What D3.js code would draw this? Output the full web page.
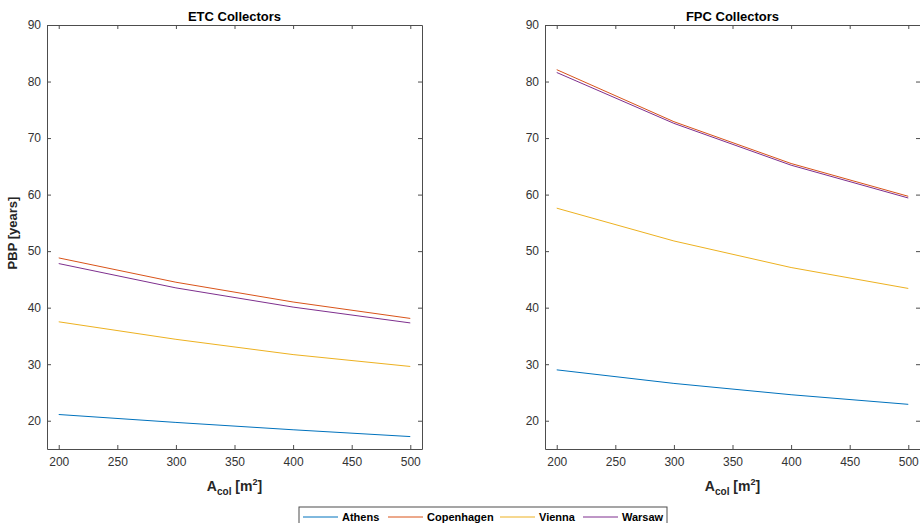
<!DOCTYPE html>
<html>
<head>
<meta charset="utf-8">
<script src="https://cdn.jsdelivr.net/npm/d3@7"></script>
<style>
  body { margin: 0; background: #fff; }
  svg { font-family: "Liberation Sans", Arial, sans-serif; }
  .tick text { fill: #333; font-size: 12px; font-family: "Liberation Sans", Arial, sans-serif; }
</style>
</head>
<body>
<script>
// collector area [m2]
const areas = [200, 300, 400, 500];
const cities = ['Athens', 'Copenhagen', 'Vienna', 'Warsaw'];
const colors = ['#0072BD', '#D95319', '#EDB120', '#7E2F8E'];
const xTicks = [200, 250, 300, 350, 400, 450, 500];
const yTicks = [20, 30, 40, 50, 60, 70, 80, 90];

// PBP [years], ETC collectors
const etcAthens = [21.1, 19.7, 18.4, 17.2];
const etcCopenhagen = [48.8, 44.5, 41.0, 38.1];
const etcVienna = [37.5, 34.4, 31.7, 29.6];
const etcWarsaw = [47.8, 43.5, 40.1, 37.3];

// PBP [years], FPC collectors
const fpcAthens = [29.0, 26.6, 24.6, 22.9];
const fpcCopenhagen = [82.1, 72.9, 65.5, 59.7];
const fpcVienna = [57.6, 51.8, 47.1, 43.4];
const fpcWarsaw = [81.6, 72.6, 65.2, 59.4];

const panels = [
  { title: 'ETC Collectors', left: 47, series: [etcAthens, etcCopenhagen, etcVienna, etcWarsaw], ylabel: true },
  { title: 'FPC Collectors', left: 545, series: [fpcAthens, fpcCopenhagen, fpcVienna, fpcWarsaw], ylabel: false },
];

const W = 920, H = 523;
const marginTop = 25, plotH = 424, plotW = 375;

const svg = d3.select('body').append('svg')
  .attr('width', W)
  .attr('height', H);

panels.forEach(p => {
  const x = d3.scaleLinear().domain([190, 510]).range([0, plotW]);
  const y = d3.scaleLinear().domain([15, 90]).range([plotH, 0]);

  const g = svg.append('g').attr('transform', `translate(${p.left},${marginTop})`);

  // lines first, axes on top
  const line = d3.line().x((d, i) => x(areas[i])).y(d => y(d));
  p.series.forEach((s, i) => {
    g.append('path')
      .datum(s)
      .attr('fill', 'none')
      .attr('stroke', colors[i])
      .attr('stroke-width', 1)
      .attr('d', line);
  });

  const axisColor = '#4d4d4d';
  const styleAxis = sel => {
    sel.select('.domain').attr('stroke', axisColor);
    sel.selectAll('.tick line').attr('stroke', axisColor);
  };

  g.append('g')
    .attr('transform', `translate(0,${plotH})`)
    .call(d3.axisBottom(x).tickValues(xTicks).tickSizeInner(-4).tickSizeOuter(0).tickPadding(8))
    .call(styleAxis);
  g.append('g')
    .call(d3.axisTop(x).tickValues(xTicks).tickSizeInner(-4).tickSizeOuter(0).tickFormat(''))
    .call(styleAxis);
  g.append('g')
    .call(d3.axisLeft(y).tickValues(yTicks).tickSizeInner(-4).tickSizeOuter(0).tickPadding(6))
    .call(styleAxis);
  g.append('g')
    .attr('transform', `translate(${plotW},0)`)
    .call(d3.axisRight(y).tickValues(yTicks).tickSizeInner(-4).tickSizeOuter(0).tickFormat(''))
    .call(styleAxis);

  g.append('text')
    .attr('x', plotW / 2)
    .attr('y', -4)
    .attr('text-anchor', 'middle')
    .attr('font-weight', 'bold')
    .attr('font-size', 13)
    .attr('fill', '#000')
    .text(p.title);

  const xl = g.append('text')
    .attr('x', plotW / 2)
    .attr('y', plotH + 42)
    .attr('text-anchor', 'middle')
    .attr('font-weight', 'bold')
    .attr('font-size', 14)
    .attr('fill', '#262626');
  xl.append('tspan').text('A');
  xl.append('tspan').attr('font-size', 10).attr('dy', 4).text('col');
  xl.append('tspan').attr('dy', -4).text(' [m');
  xl.append('tspan').attr('font-size', 9).attr('dy', -6).text('2');
  xl.append('tspan').attr('dy', 6).text(']');

  if (p.ylabel) {
    g.append('text')
      .attr('transform', `translate(-30,${plotH / 2 - 4}) rotate(-90)`)
      .attr('text-anchor', 'middle')
      .attr('font-weight', 'bold')
      .attr('font-size', 13)
      .attr('fill', '#262626')
      .text('PBP [years]');
  }
});

// legend
const legend = svg.append('g').attr('transform', 'translate(299,507)');
legend.append('rect')
  .attr('x', 0).attr('y', 0)
  .attr('width', 368).attr('height', 20)
  .attr('fill', '#fff')
  .attr('stroke', '#4d4d4d')
  .attr('stroke-width', 1);
const legendX = [4, 89, 201, 284];
cities.forEach((c, i) => {
  const lg = legend.append('g').attr('transform', `translate(${legendX[i]},10)`);
  lg.append('line')
    .attr('x1', 0).attr('x2', 35)
    .attr('y1', 0).attr('y2', 0)
    .attr('stroke', colors[i])
    .attr('stroke-width', 1);
  lg.append('text')
    .attr('x', 39)
    .attr('y', 4)
    .attr('font-weight', 'bold')
    .attr('font-size', 11)
    .attr('fill', '#000')
    .text(c);
});
</script>
</body>
</html>
